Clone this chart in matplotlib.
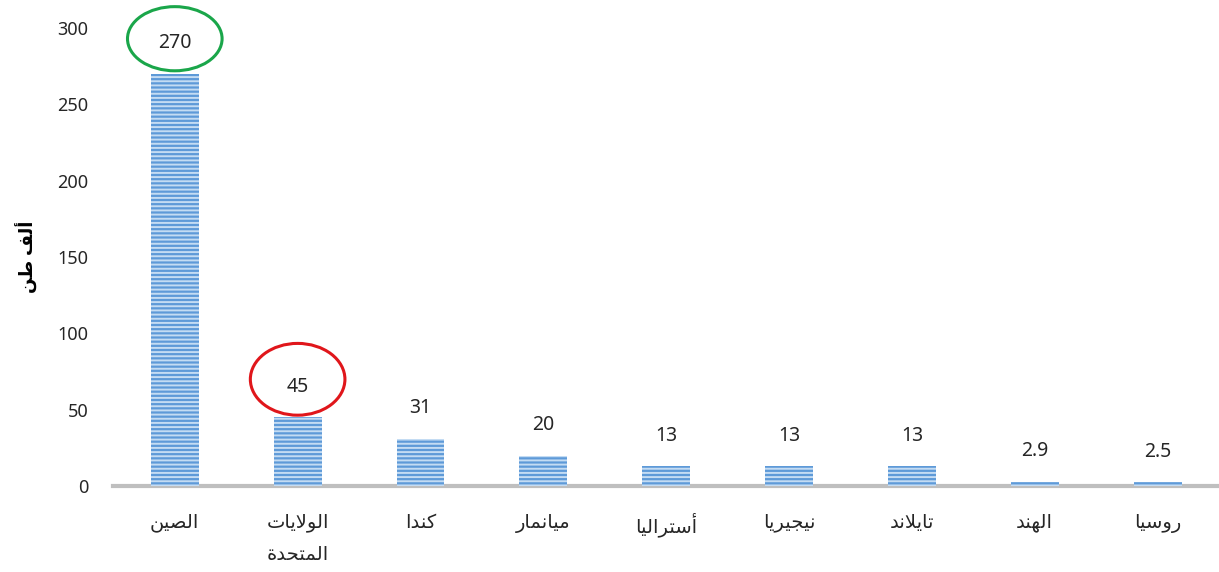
import matplotlib
matplotlib.use('Agg')
import matplotlib.pyplot as plt
from matplotlib.patches import Ellipse

# data
countries = ['الصين', 'الولايات\nالمتحدة', 'كندا', 'ميانمار', 'أستراليا', 'نيجيريا', 'تايلاند', 'الهند', 'روسيا']
values = [270, 45, 31, 20, 13, 13, 13, 2.9, 2.5]
value_labels = ['270', '45', '31', '20', '13', '13', '13', '2.9', '2.5']
y_ticks = [0, 50, 100, 150, 200, 250, 300]
y_label = 'ألف طن'
# bar index -> (ring colour, offset above bar, ring height) in data units
circled = {0: ('#1aa64a', 23, 42), 1: ('#e0161b', 25, 47)}

# minimal arabic shaping (matplotlib has no bidi / joining support)
DUAL = {
    'ب': (0xFE8F, 0xFE90, 0xFE91, 0xFE92), 'ت': (0xFE95, 0xFE96, 0xFE97, 0xFE98),
    'ج': (0xFE9D, 0xFE9E, 0xFE9F, 0xFEA0), 'ح': (0xFEA1, 0xFEA2, 0xFEA3, 0xFEA4),
    'س': (0xFEB1, 0xFEB2, 0xFEB3, 0xFEB4), 'ص': (0xFEB9, 0xFEBA, 0xFEBB, 0xFEBC),
    'ط': (0xFEC1, 0xFEC2, 0xFEC3, 0xFEC4), 'ف': (0xFED1, 0xFED2, 0xFED3, 0xFED4),
    'ك': (0xFED9, 0xFEDA, 0xFEDB, 0xFEDC), 'ل': (0xFEDD, 0xFEDE, 0xFEDF, 0xFEE0),
    'م': (0xFEE1, 0xFEE2, 0xFEE3, 0xFEE4), 'ن': (0xFEE5, 0xFEE6, 0xFEE7, 0xFEE8),
    'ه': (0xFEE9, 0xFEEA, 0xFEEB, 0xFEEC), 'ي': (0xFEF1, 0xFEF2, 0xFEF3, 0xFEF4),
}
RIGHT = {
    'ا': (0xFE8D, 0xFE8E), 'أ': (0xFE83, 0xFE84), 'ة': (0xFE93, 0xFE94),
    'د': (0xFEA9, 0xFEAA), 'ر': (0xFEAD, 0xFEAE), 'و': (0xFEED, 0xFEEE),
    'ﻻ': (0xFEFB, 0xFEFC), 'ﻷ': (0xFEF7, 0xFEF8),
}


def shape_word(word):
    word = word.replace('لا', 'ﻻ').replace('لأ', 'ﻷ')
    out = []
    for i, ch in enumerate(word):
        prev = word[i - 1] if i > 0 else ''
        nxt = word[i + 1] if i + 1 < len(word) else ''
        join_prev = prev in DUAL
        if ch in DUAL:
            join_next = nxt in DUAL or nxt in RIGHT
            f = DUAL[ch]
            if join_prev and join_next:
                out.append(chr(f[3]))
            elif join_prev:
                out.append(chr(f[1]))
            elif join_next:
                out.append(chr(f[2]))
            else:
                out.append(chr(f[0]))
        elif ch in RIGHT:
            f = RIGHT[ch]
            out.append(chr(f[1] if join_prev else f[0]))
        else:
            out.append(ch)
    return ''.join(out)[::-1]


def shape(text):
    lines = []
    for line in text.split('\n'):
        words = [shape_word(w) for w in line.split(' ')]
        lines.append(' '.join(words[::-1]))
    return '\n'.join(lines)


plt.rcParams['font.family'] = ['Noto Sans', 'DejaVu Sans']
plt.rcParams['hatch.linewidth'] = 1.4

fig = plt.figure(figsize=(12.19, 5.72), dpi=100)
ax = fig.add_axes([0.093, 0.150, 0.907, 0.801])

x = list(range(len(values)))
bars = ax.bar(x, values, width=0.39, color='#5e9ad8', edgecolor='#c4dcf3',
              hatch='----', linewidth=0, zorder=2)

for xi, v, lab in zip(x, values, value_labels):
    ax.annotate(lab, (xi, v), xytext=(0, 22), textcoords='offset points',
                ha='center', va='center', fontsize=14, color='#262626')

for idx, (col, off, h) in circled.items():
    ell = Ellipse((idx, values[idx] + off), width=0.77, height=h,
                  fill=False, edgecolor=col, linewidth=2.2, clip_on=False, zorder=3)
    ax.add_patch(ell)

ax.set_xlim(-0.5, len(values) - 0.5)
ax.set_ylim(0, 300)
ax.set_yticks(y_ticks)
ax.set_yticklabels([str(t) for t in y_ticks], fontsize=13, color='#262626')
ax.set_xticks(x)
ax.set_xticklabels([shape(c) for c in countries], fontsize=14, color='#262626',
                   linespacing=1.8, va='top')
ax.tick_params(axis='both', length=0)
ax.tick_params(axis='y', pad=18)
ax.tick_params(axis='x', pad=19)

ax.set_ylabel(shape(y_label), fontsize=13, fontweight='bold')
ax.yaxis.set_label_coords(-0.068, 0.5)

for side in ['top', 'right', 'left']:
    ax.spines[side].set_visible(False)
ax.spines['bottom'].set_color('#bfbfbf')
ax.spines['bottom'].set_linewidth(3)
ax.spines['bottom'].set_zorder(1)

fig.savefig('out.png', dpi=100)
